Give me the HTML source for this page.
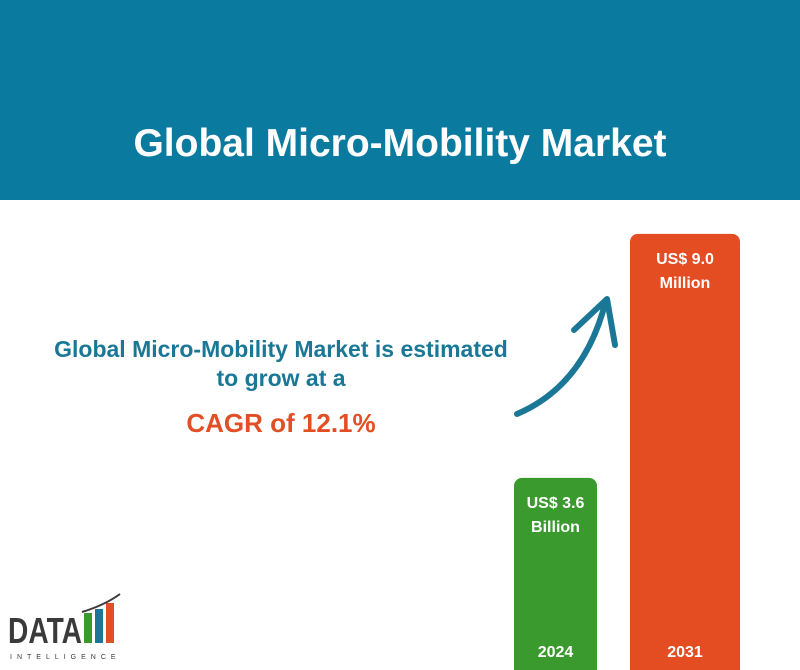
<!DOCTYPE html>
<html><head><meta charset="utf-8"><style>
body{margin:0;width:800px;height:670px;overflow:hidden;background:#fff;font-family:"Liberation Sans",sans-serif;position:relative}
.hdr{position:absolute;left:0;top:0;width:800px;height:200px;background:#0b7a9f}
.hdr h1{position:absolute;top:122px;left:0;width:800px;margin:0;text-align:center;color:#fff;font-size:39px;font-weight:bold}
.t1{position:absolute;left:16px;top:335px;width:530px;text-align:center;color:#1a7896;font-size:23px;font-weight:bold;line-height:29px}
.t2{position:absolute;left:16px;top:408px;width:530px;text-align:center;color:#e24e25;font-size:26px;font-weight:bold}
</style></head><body>
<div class="hdr"><h1>Global Micro-Mobility Market</h1></div>
<div class="t1">Global Micro-Mobility Market is estimated<br>to grow at a</div>
<div class="t2">CAGR of 12.1%</div>
<svg width="800" height="670" style="position:absolute;left:0;top:0" id="ch">
<path d="M517 414 Q585 385 606 300" stroke="#1a7896" stroke-width="6" fill="none" stroke-linecap="round"/>
<path d="M574 330 L607 299 L615 345" stroke="#1a7896" stroke-width="6" fill="none" stroke-linecap="round" stroke-linejoin="round"/>
<g>
<text x="8" y="643" font-size="36" font-weight="bold" fill="#3a3a3a" font-family="Liberation Sans" textLength="74" lengthAdjust="spacingAndGlyphs">DATA</text>
<rect x="84" y="613" width="8" height="30" fill="#3a9a2e"/><rect x="95" y="609" width="8" height="34" fill="#1a7896"/><rect x="106" y="603" width="8" height="40" fill="#e24e25"/>
<path d="M82 612 Q105 605 120 594" stroke="#3a3a3a" stroke-width="2" fill="none"/>
<text x="10" y="659" font-size="7" fill="#3a3a3a" letter-spacing="5" font-family="Liberation Sans">INTELLIGENCE</text>
</g>
</svg>
<script>
const years=['2024','2031'];
const values=[3.6,9.0];
const labels=['US$  3.6\nBillion','US$ 9.0\nMillion'];
const colors=['#3a9a2e','#e44d22'];
const xs=[514,630],ws=[83,110];
const base=670,k=45.2,m=-0.65;
const y=v=>base-(v-m)*k;
const svg=document.getElementById('ch'),NS='http://www.w3.org/2000/svg';
years.forEach((yr,i)=>{
 const r=document.createElementNS(NS,'rect');
 
 
 const top=y(values[i]);
 r.setAttribute('x',xs[i]);r.setAttribute('y',top);r.setAttribute('width',ws[i]);r.setAttribute('height',base-top+10);r.setAttribute('rx',8);r.setAttribute('fill',colors[i]);
 svg.appendChild(r);
 labels[i].split('\n').forEach((ln,j)=>{
  const t=document.createElementNS(NS,'text');
  
  
  t.setAttribute('x',xs[i]+ws[i]/2);t.setAttribute('y',top+30+j*24);t.setAttribute('text-anchor','middle');t.setAttribute('fill','#fff');t.setAttribute('font-size','16');t.setAttribute('font-weight','bold');t.setAttribute('font-family','Liberation Sans');
  t.textContent=ln;svg.appendChild(t);
 });
 const t=document.createElementNS(NS,'text');
 
 
 t.setAttribute('x',xs[i]+ws[i]/2);t.setAttribute('y',657);t.setAttribute('text-anchor','middle');t.setAttribute('fill','#fff');t.setAttribute('font-size','16');t.setAttribute('font-weight','bold');t.setAttribute('font-family','Liberation Sans');
 t.textContent=yr;svg.appendChild(t);
});
</script>
</body></html>
